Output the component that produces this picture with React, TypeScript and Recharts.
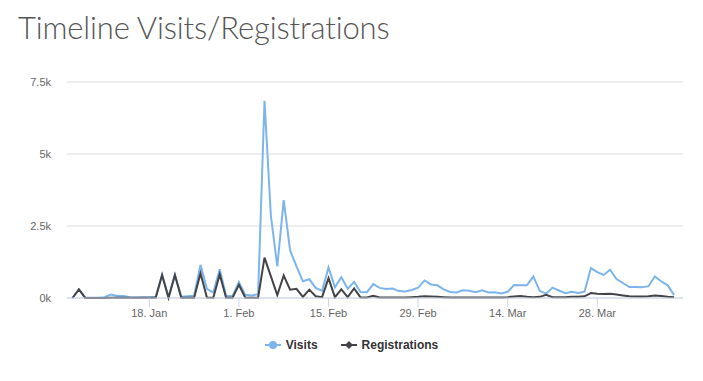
import { CartesianGrid, Legend, Line, LineChart, XAxis, YAxis } from "recharts";

// daily values, 6. Jan – 9. Apr
const visits = [
  0, 300, 20, 10, 10, 30, 120, 70, 70, 30, 20, 30, 30, 40, 800, 30, 800, 40, 60, 80,
  1150, 320, 190, 1000, 80, 60, 550, 110, 90, 130, 6850, 2850, 1100, 3400, 1650, 1100, 580, 650, 350, 250,
  1060, 370, 720, 320, 560, 210, 200, 480, 350, 310, 330, 240, 230, 280, 360, 610, 470, 440, 300, 210,
  190, 265, 255, 200, 265, 195, 200, 155, 215, 450, 445, 440, 745, 250, 150, 360, 260, 165, 220, 175,
  220, 1040, 900, 800, 980, 660, 520, 380, 380, 370, 410, 750, 575, 440, 100,
];

const registrations = [
  0, 300, 0, 0, 0, 0, 10, 10, 10, 10, 10, 10, 10, 10, 800, 10, 800, 10, 10, 10,
  860, 20, 10, 820, 10, 10, 460, 10, 10, 10, 1400, 750, 100, 780, 290, 320, 40, 290, 60, 30,
  690, 30, 300, 30, 330, 20, 20, 80, 20, 20, 20, 20, 20, 30, 40, 60, 50, 40, 30, 20,
  20, 20, 20, 20, 20, 20, 20, 20, 30, 50, 70, 40, 30, 40, 110, 30, 30, 30, 40, 40,
  60, 170, 150, 140, 150, 120, 90, 60, 50, 50, 60, 90, 70, 40, 30,
];

const tickDays = [12, 26, 40, 54, 68, 82];
const tickLabels = ["18. Jan", "1. Feb", "15. Feb", "29. Feb", "14. Mar", "28. Mar"];
const yTicks = [0, 2500, 5000, 7500];

const data = visits.map((v, i) => ({ day: i, visits: v, registrations: registrations[i] }));

const font = '"Liberation Sans", Arial, sans-serif';

const LegendContent = () => (
  <div style={{ display: "flex", justifyContent: "center", gap: 23, fontFamily: font, fontSize: 12, fontWeight: "bold", color: "#333" }}>
    <div style={{ display: "flex", alignItems: "center", gap: 5 }}>
      <svg width={16} height={10}>
        <line x1={0} y1={5} x2={16} y2={5} stroke="#7cb5ec" strokeWidth={2} />
        <circle cx={8} cy={5} r={4} fill="#7cb5ec" />
      </svg>
      <span>Visits</span>
    </div>
    <div style={{ display: "flex", alignItems: "center", gap: 5 }}>
      <svg width={16} height={10}>
        <line x1={0} y1={5} x2={16} y2={5} stroke="#434348" strokeWidth={2} />
        <path d="M8 1 L12 5 L8 9 L4 5 Z" fill="#434348" />
      </svg>
      <span>Registrations</span>
    </div>
  </div>
);

export default function App() {
  return (
    <div style={{ position: "absolute", left: 0, top: 0, width: 703, height: 381, background: "#fff" }}>
      <div
        style={{
          position: "absolute",
          left: 18,
          top: 12,
          fontFamily: "Lato, sans-serif",
          fontWeight: 300,
          fontSize: 31,
          lineHeight: "31px",
          letterSpacing: -0.15,
          color: "#555",
          whiteSpace: "nowrap",
        }}
      >
        Timeline Visits/Registrations
      </div>
      <LineChart
        width={703}
        height={381}
        data={data}
        margin={{ top: 82, right: 20, left: 0, bottom: 39 }}
        style={{ position: "absolute", left: 0, top: 0 }}
      >
        <CartesianGrid horizontal vertical={false} stroke="#dcdcdc" />
        <XAxis
          dataKey="day"
          type="number"
          domain={[-0.86, 95.39]}
          ticks={tickDays}
          tickFormatter={(d: number) => tickLabels[tickDays.indexOf(d)]}
          axisLine={{ stroke: "#ccd6eb" }}
          tickLine={{ stroke: "#ccd6eb" }}
          tickSize={9}
          tickMargin={2}
          height={30}
          tick={{ fill: "#666", fontSize: 11, fontFamily: font }}
        />
        <YAxis
          domain={[0, 7500]}
          ticks={yTicks}
          tickFormatter={(v: number) => `${v / 1000}k`}
          axisLine={false}
          tickLine={false}
          tickSize={6}
          tickMargin={10}
          width={67}
          tick={{ fill: "#666", fontSize: 11, fontFamily: font }}
        />
        <Legend
          verticalAlign="bottom"
          content={<LegendContent />}
          wrapperStyle={{ top: 338, bottom: "auto", left: 0, width: 703 }}
        />
        <Line
          type="linear"
          dataKey="visits"
          stroke="#7cb5ec"
          strokeWidth={2}
          dot={false}
          isAnimationActive={false}
        />
        <Line
          type="linear"
          dataKey="registrations"
          stroke="#434348"
          strokeWidth={2}
          dot={false}
          isAnimationActive={false}
        />
      </LineChart>
    </div>
  );
}
